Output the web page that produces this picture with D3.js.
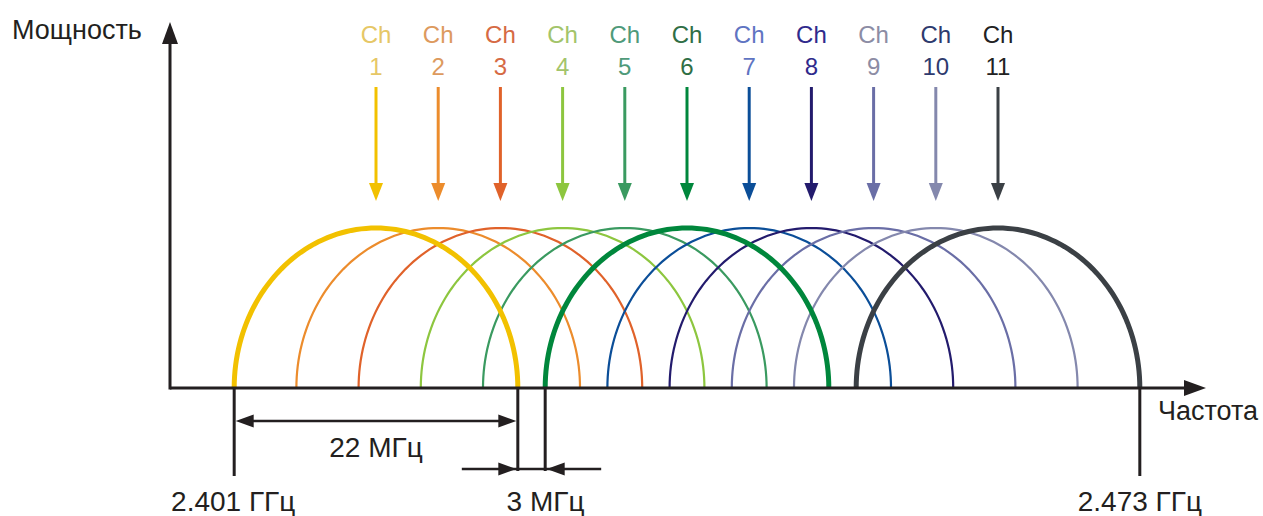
<!DOCTYPE html>
<html>
<head>
<meta charset="utf-8">
<script src="https://cdn.jsdelivr.net/npm/d3@7"></script>
<style>
  body { margin: 0; background: #fff; }
  text { font-family: "Liberation Sans", Arial, sans-serif; }
</style>
</head>
<body>
<div class="chart"></div>
<script>
// channel data
var channels = [1, 2, 3, 4, 5, 6, 7, 8, 9, 10, 11];
var centerFreqs = [2412, 2417, 2422, 2427, 2432, 2437, 2442, 2447, 2452, 2457, 2462];
var channelColors = ["#f2c100", "#ec8c2c", "#e0622a", "#8dc63f", "#3a9a60", "#00873c",
                     "#0b4e98", "#231b6d", "#6a6ea6", "#8488ad", "#3b4045"];
var labelColors = ["#e6c766", "#dd9a5e", "#d66a44", "#a3c46a", "#4f9a7a", "#2f6e45",
                   "#5f74c2", "#2f2a8c", "#8c8ca4", "#2e3a6e", "#222222"];
var strongChannels = [1, 6, 11];
var halfWidth = 11.4;   // MHz, half of the spectral mask
var edgeLabels = ["2.401 ГГц", "2.473 ГГц"];
var bandLabel = "22 МГц";
var gapLabel = "3 МГц";

var W = 1263, H = 516;
var svg = d3.select(".chart").append("svg")
    .attr("width", W)
    .attr("height", H);

var x = d3.scaleLinear()
    .domain([2412, 2462])
    .range([376, 998]);

var y = d3.scaleLinear()
    .domain([0, 1])
    .range([388, 228]);

var axisColor = "#231f20";
var x0 = 170, y0 = y(0);

// arrow helper: triangle with tip at (tx, ty) pointing in direction angle (deg)
function arrowHead(g, tx, ty, angle, len, wid, color) {
    g.append("path")
        .attr("d", "M0,0 L" + (-len) + "," + (-wid / 2) + " L" + (-len) + "," + (wid / 2) + "Z")
        .attr("transform", "translate(" + tx + "," + ty + ") rotate(" + angle + ")")
        .style("fill", color);
}

// arcs
var arcLine = d3.line()
    .x(d => d[0])
    .y(d => d[1]);

var arcs = svg.append("g").attr("id", "arcs");
var order = channels.filter(c => strongChannels.indexOf(c) < 0).concat(strongChannels);
order.forEach(function(ch) {
    var i = ch - 1;
    var c = centerFreqs[i];
    var pts = d3.range(0, 181, 2).map(function(a) {
        var t = Math.PI - a * Math.PI / 180;
        return [x(c + halfWidth * Math.cos(t)), y(Math.sin(t))];
    });
    arcs.append("path")
        .attr("d", arcLine(pts))
        .style("fill", "none")
        .style("stroke", channelColors[i])
        .style("stroke-width", strongChannels.indexOf(ch) >= 0 ? 5 : 2.2);
});

// axes
var axes = svg.append("g").attr("id", "axes");
axes.append("line")
    .attr("x1", x0).attr("y1", y0)
    .attr("x2", 1190).attr("y2", y0)
    .style("stroke", axisColor).style("stroke-width", 3);
arrowHead(axes, 1206, y0, 0, 22, 16, axisColor);
axes.append("line")
    .attr("x1", x0).attr("y1", y0 + 1.5)
    .attr("x2", x0).attr("y2", 38)
    .style("stroke", axisColor).style("stroke-width", 3);
arrowHead(axes, x0, 22, -90, 22, 16, axisColor);

svg.append("text")
    .attr("x", 12).attr("y", 39)
    .style("font-size", "27px").style("fill", axisColor)
    .text("Мощность");
svg.append("text")
    .attr("x", 1158).attr("y", 420)
    .style("font-size", "27px").style("fill", axisColor)
    .text("Частота");

// channel labels and arrows
var labels = svg.append("g").attr("id", "labels");
channels.forEach(function(ch, i) {
    var cx = x(centerFreqs[i]);
    labels.append("text")
        .attr("x", cx).attr("y", 43)
        .attr("text-anchor", "middle")
        .style("font-size", "24px")
        .style("fill", labelColors[i])
        .text("Ch");
    labels.append("text")
        .attr("x", cx).attr("y", 75)
        .attr("text-anchor", "middle")
        .style("font-size", "24px")
        .style("fill", labelColors[i])
        .text(ch);
    labels.append("line")
        .attr("x1", cx).attr("y1", 87)
        .attr("x2", cx).attr("y2", 188)
        .style("stroke", channelColors[i]).style("stroke-width", 3);
    arrowHead(labels, cx, 201, 90, 18, 14, channelColors[i]);
});

// dimensions
var dims = svg.append("g").attr("id", "dims");
var ch1Start = x(centerFreqs[0] - halfWidth);
var ch1End = x(centerFreqs[0] + halfWidth);
var ch6Start = x(centerFreqs[5] - halfWidth);
var ch11End = x(centerFreqs[10] + halfWidth);

[[ch1Start, 476], [ch1End, 471], [ch6Start, 471], [ch11End, 476]].forEach(function(d) {
    dims.append("line")
        .attr("x1", d[0]).attr("y1", y0)
        .attr("x2", d[0]).attr("y2", d[1])
        .style("stroke", axisColor).style("stroke-width", 3);
});

dims.append("line")
    .attr("x1", ch1Start + 14).attr("y1", 421)
    .attr("x2", ch1End - 14).attr("y2", 421)
    .style("stroke", axisColor).style("stroke-width", 2.5);
arrowHead(dims, ch1Start + 1.5, 421, 180, 18, 13, axisColor);
arrowHead(dims, ch1End - 1.5, 421, 0, 18, 13, axisColor);
dims.append("text")
    .attr("x", (ch1Start + ch1End) / 2).attr("y", 457)
    .attr("text-anchor", "middle")
    .style("font-size", "28px").style("fill", axisColor)
    .text(bandLabel);

dims.append("line")
    .attr("x1", ch1End - 56).attr("y1", 469)
    .attr("x2", ch6Start + 56).attr("y2", 469)
    .style("stroke", axisColor).style("stroke-width", 2.5);
arrowHead(dims, ch1End - 1.5, 469, 0, 18, 13, axisColor);
arrowHead(dims, ch6Start + 1.5, 469, 180, 18, 13, axisColor);
dims.append("text")
    .attr("x", (ch1End + ch6Start) / 2 + 14).attr("y", 511)
    .attr("text-anchor", "middle")
    .style("font-size", "28px").style("fill", axisColor)
    .text(gapLabel);

dims.append("text")
    .attr("x", ch1Start - 1).attr("y", 511)
    .attr("text-anchor", "middle")
    .style("font-size", "28px").style("fill", axisColor)
    .text(edgeLabels[0]);
dims.append("text")
    .attr("x", ch11End).attr("y", 511)
    .attr("text-anchor", "middle")
    .style("font-size", "28px").style("fill", axisColor)
    .text(edgeLabels[1]);
</script>
</body>
</html>
